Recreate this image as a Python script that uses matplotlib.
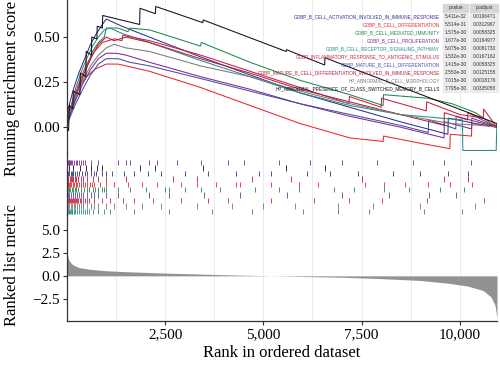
import matplotlib.pyplot as plt
from matplotlib.patches import Rectangle

# gene sets (legend order)
set_names = [
    "GOBP_B_CELL_ACTIVATION_INVOLVED_IN_IMMUNE_RESPONSE",
    "GOBP_B_CELL_DIFFERENTIATION",
    "GOBP_B_CELL_MEDIATED_IMMUNITY",
    "GOBP_B_CELL_PROLIFERATION",
    "GOBP_B_CELL_RECEPTOR_SIGNALING_PATHWAY",
    "GOBP_INFLAMMATORY_RESPONSE_TO_ANTIGENIC_STIMULUS",
    "GOBP_MATURE_B_CELL_DIFFERENTIATION",
    "GOBP_MATURE_B_CELL_DIFFERENTIATION_INVOLVED_IN_IMMUNE_RESPONSE",
    "HP_ABNORMAL_B_CELL_MORPHOLOGY",
    "HP_ABNORMAL_PRESENCE_OF_CLASS_SWITCHED_MEMORY_B_CELLS",
]
pvalues = ["5.411e-32", "5.514e-31", "1.575e-30", "1.677e-30", "5.075e-30",
           "1.532e-30", "1.415e-30", "2.550e-30", "7.015e-30", "7.795e-30"]
padjust = ["0.0196471", "0.0312967", "0.0058325", "0.0194977", "0.0081733",
           "0.0167162", "0.0058325", "0.0125155", "0.0018176", "0.0335058"]
colors = ["#2E3192", "#E8262B", "#23864A", "#7A2C8F", "#2A8A8A",
          "#C8203F", "#4A4AA8", "#B5203D", "#7A7A7A", "#111111"]

n_genes = 10950

# running enrichment score, (rank, ES)
es_activation = [(0, 0), (30, 0.10), (150, 0.20), (300, 0.30), (450, 0.38), (600, 0.46), (750, 0.52),
                 (900, 0.57), (1000, 0.60), (1400, 0.56), (2100, 0.50), (3400, 0.39), (4660, 0.29),
                 (5930, 0.19), (7200, 0.11), (8480, 0.03), (9700, -0.04), (9710, 0.05), (10400, 0.02),
                 (10943, 0.0)]
es_differentiation = [(0, 0), (30, 0.08), (150, 0.14), (300, 0.22), (500, 0.28), (700, 0.32), (1000, 0.35),
                      (1300, 0.35), (2100, 0.31), (3400, 0.22), (4660, 0.12), (5930, 0.02), (7200, -0.06),
                      (8050, -0.08), (8060, -0.05), (9000, -0.09), (9750, -0.12), (9760, -0.04),
                      (10300, -0.05), (10310, 0.02), (10943, 0.0)]
es_immunity = [(0, 0), (50, 0.05), (200, 0.15), (350, 0.25), (500, 0.33), (650, 0.42), (800, 0.47),
               (950, 0.50), (1000, 0.55), (1300, 0.55), (1550, 0.53), (1600, 0.55), (2100, 0.54),
               (3400, 0.45), (3420, 0.47), (4660, 0.36), (5930, 0.26), (7200, 0.18), (8050, 0.12),
               (8060, 0.18), (9200, 0.16), (9800, 0.13), (10400, 0.08), (10943, 0.0)]
es_proliferation = [(0, 0), (40, 0.05), (200, 0.14), (400, 0.24), (600, 0.32), (800, 0.38), (1000, 0.41),
                    (1255, 0.41), (1500, 0.40), (2100, 0.36), (3400, 0.28), (4660, 0.21), (5930, 0.13),
                    (7200, 0.06), (8480, 0.0), (9600, -0.06), (9610, 0.03), (10300, -0.01),
                    (10310, 0.05), (10943, 0.0)]
es_receptor = [(0, 0), (40, 0.06), (200, 0.20), (350, 0.30), (500, 0.38), (650, 0.45), (800, 0.50),
               (950, 0.54), (1100, 0.55), (1400, 0.52), (2100, 0.47), (3400, 0.37), (4660, 0.28),
               (5930, 0.19), (7200, 0.12), (8480, 0.07), (9500, 0.05), (10070, 0.04), (10080, -0.13),
               (10930, -0.13), (10943, 0.0)]
es_inflammatory = [(0, 0), (60, 0.08), (200, 0.18), (350, 0.27), (500, 0.35), (700, 0.42), (900, 0.47),
                   (1200, 0.49), (1400, 0.48), (1420, 0.51), (2100, 0.48), (3400, 0.40), (4660, 0.31),
                   (5930, 0.22), (7180, 0.13), (7190, 0.17), (8000, 0.11), (8010, 0.16), (9150, 0.09),
                   (9160, 0.14), (10000, 0.07), (10600, 0.05), (10610, 0.10), (10943, 0.0)]
es_mature = [(0, 0), (30, 0.03), (200, 0.12), (400, 0.21), (600, 0.29), (800, 0.35), (1000, 0.38),
             (1300, 0.38), (1600, 0.36), (2100, 0.34), (3400, 0.27), (4660, 0.20), (5930, 0.13),
             (7200, 0.07), (8480, 0.01), (9200, -0.03), (9210, 0.04), (9900, -0.01), (9910, 0.06),
             (10943, 0.0)]
es_mature_immune = [(0, 0), (70, 0.10), (200, 0.16), (350, 0.25), (500, 0.33), (650, 0.40), (800, 0.46),
                    (1000, 0.50), (1200, 0.48), (1500, 0.50), (2100, 0.47), (3400, 0.38), (4660, 0.30),
                    (5930, 0.21), (7200, 0.14), (8480, 0.07), (9600, 0.01), (9610, 0.08), (10200, 0.04),
                    (10210, 0.08), (10943, 0.0)]
es_morphology = [(0, 0), (50, 0.08), (200, 0.16), (400, 0.26), (600, 0.34), (800, 0.40), (1000, 0.44),
                 (1200, 0.46), (1500, 0.44), (2100, 0.42), (3400, 0.34), (4660, 0.28), (5930, 0.20),
                 (7200, 0.13), (8480, 0.07), (9750, 0.02), (10500, 0.01), (10943, 0.0)]
es_class_switched = [(0, 0), (40, -0.02), (60, 0.12), (150, 0.10), (160, 0.20), (330, 0.18), (340, 0.30),
                     (480, 0.28), (490, 0.42), (620, 0.40), (630, 0.50), (760, 0.49), (770, 0.56),
                     (900, 0.55), (910, 0.62), (1850, 0.57), (1860, 0.66), (2250, 0.63), (2260, 0.67),
                     (3460, 0.58), (3470, 0.595), (5580, 0.42), (5590, 0.43), (6560, 0.345),
                     (6570, 0.385), (10943, 0.02), (10950, 0.0)]

# hit positions for the rug
hits_activation = [10, 30, 60, 90, 120, 150, 200, 250, 300, 380, 450, 520, 600, 680, 750, 900, 1000,
                   1150, 1450, 1700, 2050, 2400, 3000, 3600, 4300, 4900, 5200, 6100, 6700, 7400, 8300,
                   9000, 9700, 10200]
hits_differentiation = [15, 30, 55, 80, 110, 150, 190, 220, 260, 300, 350, 400, 450, 500, 580, 640, 700,
                        850, 1000, 1200, 1550, 1900, 2300, 2900, 3300, 3800, 4300, 4400, 5200, 5900,
                        6400, 7600, 8060, 8600, 9200, 9760, 10310]
hits_immunity = [20, 50, 85, 120, 160, 200, 240, 280, 350, 430, 500, 570, 650, 720, 800, 880, 950,
                 1000, 1300, 1600, 2000, 2500, 2600, 3000, 3420, 3900, 4800, 5400, 5900, 6800, 7300,
                 8060, 8700, 9500, 10100]
hits_proliferation = [20, 40, 60, 85, 110, 140, 180, 220, 260, 300, 350, 420, 470, 600, 800, 1300,
                      1500, 1600, 2100, 2300, 2800, 3400, 4100, 4500, 5400, 6200, 7000, 7900, 8800,
                      9600, 10300]
hits_receptor = [15, 40, 65, 90, 115, 140, 170, 200, 250, 300, 350, 400, 450, 500, 550, 650, 800,
                 950, 1100, 1700, 2600, 3700, 4700, 6000, 6900, 7700, 9100, 10070]
hits_inflammatory = [20, 40, 60, 80, 100, 125, 150, 175, 200, 230, 260, 290, 320, 350, 400, 450, 500,
                     550, 700, 900, 1100, 1420, 1700, 2200, 2900, 3600, 4100, 5200, 6300, 7190, 8010,
                     9160, 10610]
hits_mature = [30, 60, 100, 150, 200, 250, 300, 350, 400, 500, 600, 700, 800, 1000, 1300, 2100, 2600,
               3500, 4400, 5600, 7000, 8200, 9210, 9910]
hits_mature_immune = [35, 70, 100, 130, 165, 200, 240, 280, 350, 420, 500, 650, 800, 1000, 1500, 2700,
                      3300, 4700, 5700, 7500, 9600, 10200]
hits_morphology = [25, 50, 90, 130, 170, 210, 250, 300, 350, 400, 500, 600, 700, 800, 1000, 1200,
                   1500, 1900, 2400, 3300, 4200, 5000, 5800, 6900, 7800, 9000, 10400]
hits_class_switched = [40, 150, 330, 480, 620, 760, 900, 1850, 2250, 3460, 5580, 6560]

# ranked list metric
metric_rank = [1, 5, 15, 40, 80, 150, 300, 600, 1000, 1500, 2500, 3500, 4500, 5200, 6000, 7000, 8000,
               9000, 9700, 10200, 10600, 10800, 10900, 10940, 10950]
metric_value = [3.0, 2.6, 2.2, 1.8, 1.5, 1.2, 0.9, 0.7, 0.55, 0.45, 0.3, 0.18, 0.07, 0.0, -0.07, -0.15,
                -0.3, -0.5, -0.8, -1.1, -1.6, -2.3, -3.2, -4.3, -4.6]

es_list = [es_activation, es_differentiation, es_immunity, es_proliferation, es_receptor,
           es_inflammatory, es_mature, es_mature_immune, es_morphology, es_class_switched]
hits_list = [hits_activation, hits_differentiation, hits_immunity, hits_proliferation, hits_receptor,
             hits_inflammatory, hits_mature, hits_mature_immune, hits_morphology, hits_class_switched]
# rug rows from top to bottom (indices into the lists above)
rug_order = [3, 9, 0, 7, 1, 2, 6, 5, 8, 4]

plt.rcParams['font.family'] = ['Liberation Serif', 'DejaVu Serif']
axis_col = '#333333'
grid_col = '#EBEBEB'

fig = plt.figure(figsize=(5, 3.7), dpi=100)
left, width = 0.134, 0.86
ax1 = fig.add_axes([left, 0.5865, width, 0.4135])
ax2 = fig.add_axes([left, 0.4189, width, 0.1676])
ax3 = fig.add_axes([left, 0.1324, width, 0.2865])

grid_x = [1250, 2500, 3750, 5000, 6250, 7500, 8750, 10000]
for ax in (ax1, ax2, ax3):
    ax.set_xlim(0, n_genes)
    for g in grid_x:
        ax.axvline(g, color=grid_col, lw=0.7, zorder=0)
    for s in ('top', 'right', 'bottom'):
        ax.spines[s].set_visible(False)
    ax.spines['left'].set_color(axis_col)
    ax.spines['left'].set_linewidth(0.9)
    ax.set_xticks([])
    ax.tick_params(axis='y', colors=axis_col, labelsize=11, length=3, width=0.8, pad=2)
    ax.set_facecolor('none')

# running ES lines
for pts, c in zip(es_list, colors):
    xs = [p[0] for p in pts]
    ys = [p[1] for p in pts]
    ax1.plot(xs, ys, color=c, lw=0.75)
ax1.set_ylim(-0.144, 0.706)
ax1.set_yticks([0.0, 0.25, 0.5])
ax1.set_yticklabels(["0.00", "0.25", "0.50"])

# rug
for row, idx in enumerate(rug_order):
    ax2.vlines(hits_list[idx], 9 - row, 10 - row, color=colors[idx], lw=0.6)
ax2.set_ylim(-0.19, 11.3)
ax2.set_yticks([])

# ranked list
ax3.fill_between(metric_rank, 0, metric_value, color='#929292', lw=0)
ax3.set_ylim(-4.9, 6.6)
ax3.set_yticks([-2.5, 0.0, 2.5, 5.0])
ax3.set_yticklabels(["\u22122.5", "0.0", "2.5", "5.0"])
ax3.spines['bottom'].set_visible(True)
ax3.spines['bottom'].set_color(axis_col)
ax3.spines['bottom'].set_linewidth(0.9)
ax3.set_xticks([2500, 5000, 7500, 10000])
ax3.set_xticklabels(["2,500", "5,000", "7,500", "10,000"])
ax3.tick_params(axis='x', colors=axis_col, labelsize=11, length=3, width=0.8, pad=2)
for ax in (ax1, ax3):
    for lab in ax.get_xticklabels() + ax.get_yticklabels():
        lab.set_color('black')
ax3.set_xlabel("Rank in ordered dataset", fontsize=12, labelpad=3)

fig.text(12 / 500, 1 - 88 / 370, "Running enrichment score", rotation=90,
         ha='center', va='center', fontsize=12)
fig.text(12 / 500, 1 - 265 / 370, "Ranked list metric", rotation=90,
         ha='center', va='center', fontsize=12)

# legend table with p-values
W, H = 500, 370
tab_font = ['Liberation Sans', 'DejaVu Sans']
col_x = [(443, 468), (470, 498)]
for j, head in enumerate(["pvalue", "p.adjust"]):
    x0, x1 = col_x[j]
    fig.patches.append(Rectangle((x0 / W, 1 - 12 / H), (x1 - x0) / W, 8 / H,
                                 transform=fig.transFigure, color='#D6D6D6', zorder=5))
    fig.text((x0 + x1) / 2 / W, 1 - 8 / H, head, ha='center', va='center',
             fontsize=3.5, family=tab_font, color='#333333', zorder=6)
for i in range(len(set_names)):
    yc = 16.5 + 8 * i
    fig.text(440 / W, 1 - yc / H, set_names[i], ha='right', va='center',
             fontsize=3.3, family=tab_font, color=colors[i], zorder=6)
    for j, val in enumerate([pvalues[i], padjust[i]]):
        x0, x1 = col_x[j]
        fig.patches.append(Rectangle((x0 / W, 1 - (yc + 3.6) / H), (x1 - x0) / W, 7.2 / H,
                                     transform=fig.transFigure, color='#EBEBEB', zorder=5))
        fig.text((x0 + x1) / 2 / W, 1 - yc / H, val, ha='center', va='center',
                 fontsize=3.5, family=tab_font, color='#333333', zorder=6)

plt.savefig('out.png', dpi=100)
